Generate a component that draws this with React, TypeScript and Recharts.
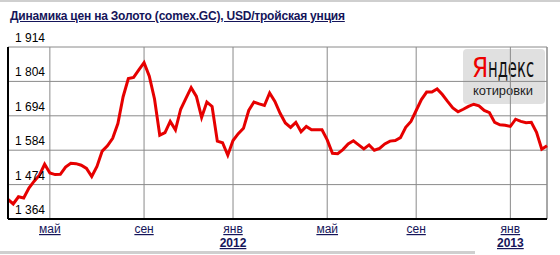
import { LineChart, Line, XAxis, YAxis, CartesianGrid, ReferenceLine } from "recharts"

// weekly COMEX gold closes, USD per troy ounce, first week = 2011-03-07
const firstWeek = "2011-03-07"
const prices = [
  1427, 1412, 1435, 1431, 1463, 1485, 1504, 1539, 1511, 1506,
  1507, 1530, 1542, 1541, 1536, 1526, 1500, 1532, 1581, 1598,
  1622, 1669, 1755, 1813, 1817, 1841, 1864, 1821, 1748, 1632,
  1640, 1676, 1649, 1715, 1750, 1784, 1756, 1689, 1738, 1724,
  1613, 1608, 1568, 1615, 1637, 1654, 1711, 1738, 1732, 1727,
  1767, 1740, 1702, 1671, 1657, 1673, 1643, 1660, 1649, 1649,
  1649, 1617, 1574, 1573, 1586, 1604, 1614, 1601, 1588, 1601,
  1584, 1590, 1604, 1613, 1615, 1624, 1657, 1676, 1711, 1746,
  1770, 1770, 1780, 1762, 1740, 1719, 1707, 1715, 1724, 1731,
  1726, 1711, 1704, 1673, 1665, 1664, 1660, 1683, 1676, 1672,
  1673, 1641, 1587, 1598,
]

const monthTicks = ["2011-05-02", "2011-09-05", "2012-01-02", "2012-05-07", "2012-09-03", "2013-01-07"]
const monthNames = ["янв", "фев", "мар", "апр", "май", "июн", "июл", "авг", "сен", "окт", "ноя", "дек"]
const priceTicks = [1364, 1474, 1584, 1694, 1804, 1914]

const weeks = prices.map((_, i) => {
  const d = new Date(firstWeek + "T00:00:00Z")
  d.setUTCDate(d.getUTCDate() + 7 * i)
  return d.toISOString().slice(0, 10)
})
const data = weeks.map((week, i) => ({ week, price: prices[i] }))

const LINK = "#15155a"
const FONT = "Arial, 'Liberation Sans', sans-serif"
const LOGO_FONT = "'Liberation Sans Narrow', 'DejaVu Sans Condensed', Arial, sans-serif"
const PLOT_LEFT = 8

function fmtPrice(v: number) {
  return `${Math.floor(v / 1000)} ${String(v % 1000).padStart(3, "0")}`
}

function PriceTick({ y, payload }: any) {
  return (
    <text x={PLOT_LEFT + 7} y={y - 5} textAnchor="start" fontSize={12} fontFamily={FONT} fill="#000">
      {fmtPrice(payload.value)}
    </text>
  )
}

function MonthTick({ x, y, payload }: any) {
  const d = new Date(payload.value + "T00:00:00Z")
  const m = d.getUTCMonth()
  return (
    <g fontFamily={FONT} fontSize={12} fill={LINK}>
      <text x={x} y={y + 6} textAnchor="middle" textDecoration="underline">
        {monthNames[m]}
      </text>
      {m === 0 && (
        <text x={x} y={y + 20} textAnchor="middle" fontWeight="bold" textDecoration="underline">
          {d.getUTCFullYear()}
        </text>
      )}
    </g>
  )
}

export default function App() {
  return (
    <div style={{ position: "absolute", left: 0, top: 0, width: 560, height: 255, background: "#fff", overflow: "hidden" }}>
      <div style={{ position: "absolute", left: 0, top: 0, width: 560, height: 2, background: "#cfcfcf" }} />
      <div style={{ position: "absolute", left: 0, top: 251, width: 475, height: 3, background: "#cfcfcf" }} />
      <div
        style={{
          position: "absolute", left: 10, top: 9, fontFamily: FONT, fontSize: 12, lineHeight: "14px", letterSpacing: "-0.2px",
          fontWeight: "bold", color: LINK, textDecoration: "underline", whiteSpace: "nowrap",
        }}
      >
        Динамика цен на Золото (comex.GC), USD/тройская унция
      </div>
      <div style={{ position: "absolute", left: 463, top: 49, width: 82, height: 55, background: "#e0e0e0", borderRadius: 4 }}>
        <svg width={96} height={55} style={{ display: "block", overflow: "visible" }}>
          <text x={9} y={28} fontSize={26} fontFamily={LOGO_FONT} fill="#ee0000">
            Я
          </text>
          <text x={25} y={28} fontSize={26} fontFamily={LOGO_FONT} fill="#111" textLength={46} lengthAdjust="spacingAndGlyphs">
            ндекс
          </text>
          <text x={10} y={46} fontSize={12} fontFamily={FONT} fill="#222" textLength={60} lengthAdjust="spacingAndGlyphs">
            котировки
          </text>
        </svg>
      </div>
      <div style={{ position: "absolute", left: 0, top: 0 }}>
        <LineChart width={560} height={255} data={data} margin={{ top: 47, right: 13, bottom: 0, left: PLOT_LEFT }}>
          <CartesianGrid stroke="#8a8a8a" strokeWidth={1} />
          <XAxis
            dataKey="week"
            type="category"
            scale="point"
            padding={{ left: 0, right: 0 }}
            ticks={monthTicks}
            interval={0}
            height={36}
            tickLine={false}
            axisLine={{ stroke: "#000", strokeWidth: 2 }}
            tick={<MonthTick />}
          />
          <YAxis
            mirror
            width={60}
            domain={[1364, 1914]}
            ticks={priceTicks}
            interval={0}
            tickLine={false}
            axisLine={{ stroke: "#000", strokeWidth: 2 }}
            tick={<PriceTick />}
          />
          <ReferenceLine x={weeks[weeks.length - 1]} stroke="#8a8a8a" />
          <Line
            type="linear"
            dataKey="price"
            stroke="#e60000"
            strokeWidth={3}
            dot={false}
            isAnimationActive={false}
          />
        </LineChart>
      </div>
    </div>
  )
}
